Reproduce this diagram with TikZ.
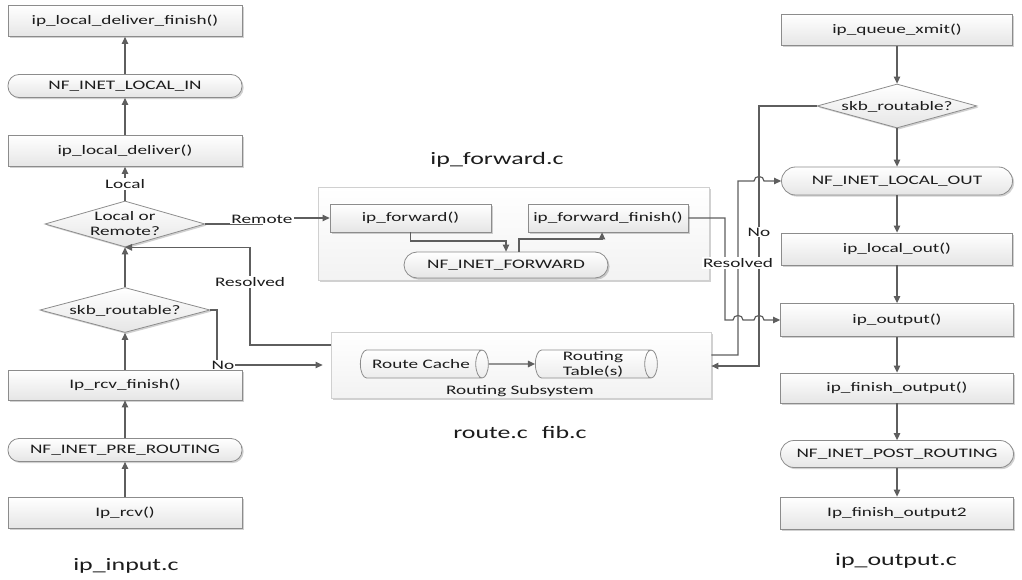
\documentclass[tikz,border=0pt]{standalone}
\usepackage{fontspec}
\setmainfont[FakeStretch=1.48]{Carlito}
\usetikzlibrary{shapes.geometric,arrows.meta,shadows,calc}
\definecolor{lncol}{HTML}{5E5E5E}
\definecolor{bd}{HTML}{8C8C8C}
\definecolor{gbd}{HTML}{D0D0D0}
\definecolor{txt}{HTML}{1C1C1C}
\newcommand\dtext[1]{\makebox[0pt]{\smash{\raisebox{-4.4pt}{\begin{tabular}{@{}c@{}}#1\end{tabular}}}}}
\newcommand\cyltext[1]{\dtext{#1}\raisebox{-14pt}{\rule{0pt}{28pt}}}
\begin{document}
\begin{tikzpicture}[x=1pt,y=-1pt,
  font=\fontsize{13}{15}\selectfont,
  every node/.style={text=txt},
  shad/.style={drop shadow={shadow xshift=1.6pt,shadow yshift=-1.6pt,fill=black,opacity=0.18}},
  box/.style={draw=bd, line width=0.8pt, top color=white, bottom color=gray!20, shad, inner sep=0pt},
  rbox/.style={box, rectangle},
  stad/.style={box, rectangle, rounded corners=11pt},
  diam/.style={box, diamond},
  cyl/.style={cylinder, draw=bd, line width=0.8pt, top color=white, bottom color=gray!15, inner sep=0pt, aspect=0.45},
  grp/.style={draw=gbd, line width=0.8pt, top color=white, bottom color=gray!10, shad, inner sep=0pt},
  arr/.style={draw=lncol, line width=1.2pt, -{Triangle[length=7pt,width=6.5pt]}},
  lbl/.style={fill=white, inner sep=1pt},
  title/.style={font=\fontsize{17.5}{20}\selectfont}
]
\useasboundingbox (0,0) rectangle (1022,580);
% group boxes
\node[grp, minimum width=391pt, minimum height=93pt] (fgrp) at (513.5,233.5) {};
\node[grp, minimum width=380pt, minimum height=66pt] (rgrp) at (521,365) {};
% left column
\node[rbox, minimum width=234pt, minimum height=31pt] (ldf) at (125,21) {ip\_local\_deliver\_finish()};
\node[stad, minimum width=234pt, minimum height=23pt] (lin) at (125,86) {NF\_INET\_LOCAL\_IN};
\node[rbox, minimum width=234pt, minimum height=31pt] (ld) at (125,151) {ip\_local\_deliver()};
\node[diam, minimum width=160pt, minimum height=46pt] (lor) at (125,224) {\dtext{Local or\\Remote?}};
\node[diam, minimum width=170pt, minimum height=45pt] (skb1) at (125,310) {\dtext{skb\_routable?}};
\node[rbox, minimum width=234pt, minimum height=30pt] (rf) at (125,385) {Ip\_rcv\_finish()};
\node[stad, minimum width=234pt, minimum height=23pt] (pre) at (125,450) {NF\_INET\_PRE\_ROUTING};
\node[rbox, minimum width=234pt, minimum height=31pt] (rcv) at (125,513) {Ip\_rcv()};
% middle
\node[rbox, minimum width=161pt, minimum height=28pt] (fwd) at (410.5,218) {ip\_forward()};
\node[rbox, minimum width=160pt, minimum height=28pt] (fwf) at (608,218) {ip\_forward\_finish()};
\node[stad, rounded corners=13pt, minimum width=204pt, minimum height=26pt] (nff) at (506,265) {NF\_INET\_FORWARD};
\node[cyl, minimum height=128pt, minimum width=28pt] (rc) at (421,364) {\cyltext{Route Cache}};
\node[cyl, minimum height=122pt, minimum width=28pt] (rt) at (593,364) {\cyltext{Routing\\Table(s)}};
\node (rsl) at (520,391) {Routing Subsystem};
% right column
\node[rbox, minimum width=231pt, minimum height=31pt] (qx) at (897,30) {ip\_queue\_xmit()};
\node[diam, minimum width=160pt, minimum height=44pt] (skb2) at (897,106) {\dtext{skb\_routable?}};
\node[stad, rounded corners=14pt, minimum width=231pt, minimum height=28pt] (lout) at (897,181) {NF\_INET\_LOCAL\_OUT};
\node[rbox, minimum width=231pt, minimum height=32pt] (lo) at (897,249) {ip\_local\_out()};
\node[rbox, minimum width=233pt, minimum height=33pt] (out) at (897,320) {ip\_output()};
\node[rbox, minimum width=233pt, minimum height=30pt] (fo) at (897,388) {ip\_finish\_output()};
\node[stad, rounded corners=13.5pt, minimum width=233pt, minimum height=27pt] (post) at (897,454) {NF\_INET\_POST\_ROUTING};
\node[rbox, minimum width=233pt, minimum height=32pt] (fo2) at (897,513) {Ip\_finish\_output2};
% titles
\node[title] (tin) at (126,566) {ip\_input.c};
\node[title] (tfw) at (497,160) {ip\_forward.c};
\node[title] (trt) at (520,432) {route.c\hspace{14pt}fib.c};
\node[title] (tout) at (896,561) {ip\_output.c};
% coordinates
\coordinate (rm) at (262,219);
\coordinate (r1) at (250,345);
\coordinate (n1) at (217,365);
\coordinate (c1) at (506,241);
\coordinate (c2) at (602,239);
\coordinate (j0) at (725,320);
\coordinate (j1) at (733,320);
\coordinate (j2) at (743,320);
\coordinate (j3) at (754,320);
\coordinate (j4) at (764,320);
\coordinate (r2) at (738,355);
\coordinate (k1) at (754,181);
\coordinate (k2) at (764,181);
\coordinate (n2) at (759,366);
% left connectors
\draw[arr] (rcv.north) -- (pre.south);
\draw[arr] (pre.north) -- (rf.south);
\draw[arr] (rf.north) -- (skb1.south);
\draw[arr] (skb1.north) -- (lor.south);
\draw[arr] (lor.north) -- (ld.south);
\draw[arr] (ld.north) -- (lin.south);
\draw[arr] (lin.north) -- (ldf.south);
\draw[arr] (lor.east) -| (rm) |- (fwd.west);
\draw[arr, shorten >=8pt] (skb1.east) -| (n1) -- (rgrp.west |- n1);
\draw[arr] (rgrp.west |- r1) -- (r1) |- (lor.south);
% middle connectors
\draw[arr] (fwd.south) |- (c1) -- (nff.north);
\draw[arr] ([xshift=13pt]nff.north) |- (c2) -- (fwf.south -| c2);
\draw[arr] (rc.east) -- (rt.west);
\draw[arr] (fwf.east) -| (j0) -- (j1) .. controls ($(j1)+(0,-6)$) and ($(j2)+(0,-6)$) .. (j2) -- (j3) .. controls ($(j3)+(0,-6)$) and ($(j4)+(0,-6)$) .. (j4) -- (out.west);
\draw[arr] (rgrp.east |- r2) -- (r2) |- (k1) .. controls ($(k1)+(0,-6)$) and ($(k2)+(0,-6)$) .. (k2) -- (lout.west);
\draw[arr] (skb2.west) -| (n2) -- (rgrp.east |- n2);
% right connectors
\draw[arr] (qx.south) -- (skb2.north);
\draw[arr] (skb2.south) -- (lout.north);
\draw[arr] (lout.south) -- (lo.north);
\draw[arr] (lo.south) -- (out.north);
\draw[arr] (out.south) -- (fo.north);
\draw[arr] (fo.south) -- (post.north);
\draw[arr] (post.south) -- (fo2.north);
% labels
\node[lbl] (lloc) at (125,184) {Local};
\node[lbl] (lrem) at (rm) {Remote};
\node[lbl] (lres1) at (250,282) {Resolved};
\node[lbl] (lno1) at (223,365) {No};
\node[lbl] (lres2) at (738,263) {Resolved};
\node[lbl] (lno2) at (759,232) {No};
\end{tikzpicture}
\end{document}
